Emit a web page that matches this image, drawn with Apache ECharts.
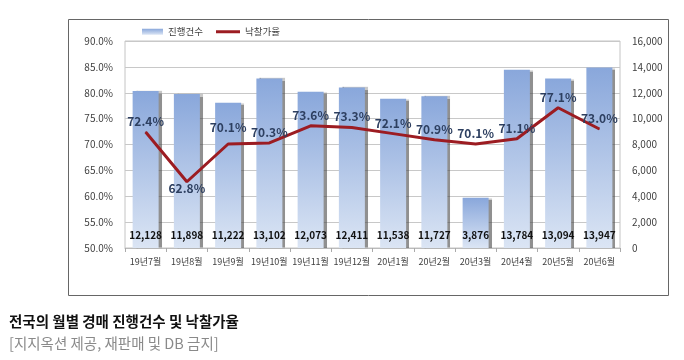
<!DOCTYPE html>
<html><head><meta charset="utf-8">
<script src="https://cdn.jsdelivr.net/npm/echarts@6/dist/echarts.min.js"></script>
<style>html,body{margin:0;padding:0;background:#fff}#c{width:684px;height:360px}</style>
</head><body><div id="c"></div>
<script>
var categories = ['19년7월','19년8월','19년9월','19년10월','19년11월','19년12월','20년1월','20년2월','20년3월','20년4월','20년5월','20년6월'];
var caseCounts = [12128, 11898, 11222, 13102, 12073, 12411, 11538, 11727, 3876, 13784, 13094, 13947];
var bidRates = [72.4, 62.8, 70.1, 70.3, 73.6, 73.3, 72.1, 70.9, 70.1, 71.1, 77.1, 73.0];
var leftTicks = [50, 90, 5];
var rightTicks = [0, 16000, 2000];
var seriesNames = ['진행건수', '낙찰가율'];
var captionTitle = '전국의 월별 경매 진행건수 및 낙찰가율';
var captionSub = '[지지옥션 제공, 재판매 및 DB 금지]';

var FONT = '"Noto Sans CJK KR", "Noto Sans", sans-serif';
var chart = echarts.init(document.getElementById('c'), null, {renderer: 'canvas'});

var rateData = bidRates.map(function (v, i) {
  var d = {value: v};
  if (i === 1) {
    d.label = {position: 'bottom', distance: 0, offset: [4, -2]};
  } else if (i === 2) {
    d.label = {distance: 10};
  }
  return d;
});

var legendText = {fontFamily: FONT, fontSize: 9.5, color: '#404040'};

chart.setOption({
  animation: false,
  textStyle: {fontFamily: FONT},
  title: [
    {text: captionTitle, left: 9, top: 314, padding: 0,
     textStyle: {fontFamily: FONT, fontSize: 14.5, fontWeight: 'bold', color: '#111'}},
    {text: captionSub, left: 9, top: 336, padding: 0,
     textStyle: {fontFamily: FONT, fontSize: 14.5, fontWeight: 'normal', color: '#8a8a8a'}}
  ],
  graphic: [{
    type: 'rect', shape: {x: 68.5, y: 19.5, width: 600, height: 276},
    style: {fill: 'none', stroke: '#666', lineWidth: 1}, silent: true, z: -1
  }],
  legend: [{
    left: 142, top: 27, padding: 0, itemWidth: 21, itemHeight: 6, itemGap: 4,
    textStyle: legendText, data: [{name: seriesNames[0], icon: 'rect'}]
  }, {
    left: 216, top: 27, padding: 0, itemWidth: 24, itemHeight: 3, itemGap: 3,
    textStyle: legendText,
    data: [{name: seriesNames[1], icon: 'rect', itemStyle: {color: '#9c1c22'}}]
  }],
  grid: {left: 125, right: 64, top: 41, bottom: 112, show: true, borderColor: '#c4c4c4', borderWidth: 1},
  xAxis: {
    type: 'category', data: categories,
    axisLine: {show: true, lineStyle: {color: '#bbb'}},
    axisTick: {show: true, alignWithLabel: false, length: 4, lineStyle: {color: '#aaa'}},
    axisLabel: {interval: 0, fontSize: 9, color: '#404040', margin: 9, fontFamily: FONT}
  },
  yAxis: [{
    type: 'value', min: leftTicks[0], max: leftTicks[1], interval: leftTicks[2],
    axisLine: {show: false}, axisTick: {show: false},
    splitLine: {lineStyle: {color: '#c8c8c8'}},
    axisLabel: {fontSize: 10, color: '#404040', margin: 12, fontFamily: FONT,
      formatter: function (v) { return v.toFixed(1) + '%'; }}
  }, {
    type: 'value', min: rightTicks[0], max: rightTicks[1], interval: rightTicks[2],
    axisLine: {show: false}, axisTick: {show: false}, splitLine: {show: false},
    axisLabel: {fontSize: 10, color: '#404040', margin: 12, fontFamily: FONT,
      formatter: function (v) { return v.toLocaleString('en-US'); }}
  }],
  series: [{
    name: seriesNames[0], type: 'bar', yAxisIndex: 1, barWidth: 26,
    data: caseCounts,
    itemStyle: {
      color: new echarts.graphic.LinearGradient(0, 0, 0, 1, [
        {offset: 0, color: '#89a7db'}, {offset: 1, color: '#dbe5f4'}]),
      shadowColor: 'rgba(70,70,70,0.6)', shadowOffsetX: 3, shadowOffsetY: 0, shadowBlur: 1
    },
    label: {show: true, position: 'insideBottom', distance: 8, fontSize: 10, fontWeight: 'bold',
      color: '#111', fontFamily: FONT,
      formatter: function (p) { return p.value.toLocaleString('en-US'); }},
    z: 2
  }, {
    name: seriesNames[1], type: 'line', yAxisIndex: 0, data: rateData,
    symbol: 'circle', symbolSize: 1, showSymbol: true,
    lineStyle: {color: '#9c1c22', width: 3}, itemStyle: {color: '#9c1c22'},
    label: {show: true, position: 'top', distance: 4, offset: [5, 0], fontSize: 12, fontWeight: 'bold',
      color: '#2d3f60', fontFamily: FONT,
      formatter: function (p) { return p.value.toFixed(1) + '%'; }},
    labelLayout: {hideOverlap: false},
    z: 3
  }]
});
</script></body></html>
